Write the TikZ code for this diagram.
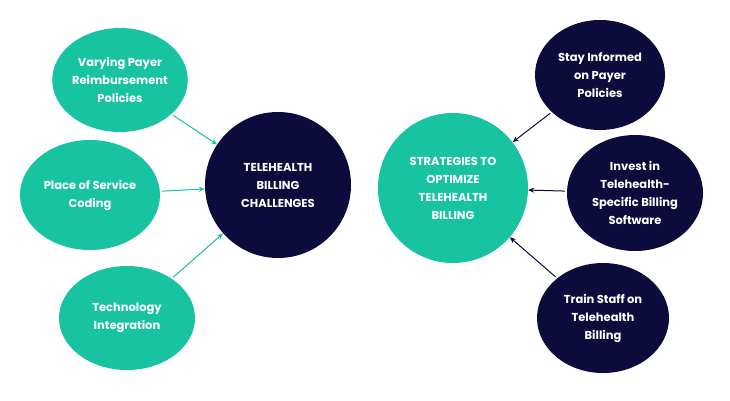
\documentclass[tikz,border=0pt]{standalone}
\usepackage{fontspec}
\setmainfont{Poppins}
\usetikzlibrary{shapes.geometric,arrows.meta}
\definecolor{teal1}{HTML}{17C3A0}
\definecolor{navy}{HTML}{0C0B3C}
\begin{document}
\begin{tikzpicture}[x=1pt,y=-1pt,
  tl/.style={ellipse,fill=teal1,text=white,font=\bfseries\fontsize{11.5}{18}\selectfont,align=center,inner sep=0pt},
  nv/.style={ellipse,fill=navy,text=white,font=\bfseries\fontsize{11.5}{18}\selectfont,align=center,inner sep=0pt},
  ta/.style={draw=teal1,line width=1pt,-{Stealth[length=6pt,width=5pt]},shorten <=2pt},
  na/.style={draw=navy,line width=1pt,-{Stealth[length=6pt,width=5pt]},shorten <=2pt}]
\useasboundingbox (0,0) rectangle (730,400);
\fill[white] (0,0) rectangle (730,400);
\node[tl,minimum width=130,minimum height=104] (a) at (120,80) {Varying Payer\\Reimbursement\\Policies};
\node[tl,minimum width=140,minimum height=110] (b) at (90,195) {Place of Service\\Coding};
\node[tl,minimum width=136,minimum height=104] (c) at (127,318) {Technology\\Integration};
\node[nv,minimum width=146,minimum height=146] (d) at (278,185) {TELEHEALTH\\BILLING\\CHALLENGES};
\node[tl,minimum width=150,minimum height=150] (e) at (453,188) {STRATEGIES TO\\OPTIMIZE\\TELEHEALTH\\BILLING};
\node[nv,minimum width=130,minimum height=110] (f) at (600,75) {Stay Informed\\on Payer\\Policies};
\node[nv,minimum width=136,minimum height=116] (g) at (635,193) {Invest in\\Telehealth-\\Specific Billing\\Software};
\node[nv,minimum width=132,minimum height=110] (h) at (603,318) {Train Staff on\\Telehealth\\Billing};
\draw[ta] (a) -- (d);
\draw[ta] (b) -- (d);
\draw[ta] (c) -- (d);
\draw[na] (f) -- (e);
\draw[na] (g) -- (e);
\draw[na] (h) -- (e);
\end{tikzpicture}
\end{document}
